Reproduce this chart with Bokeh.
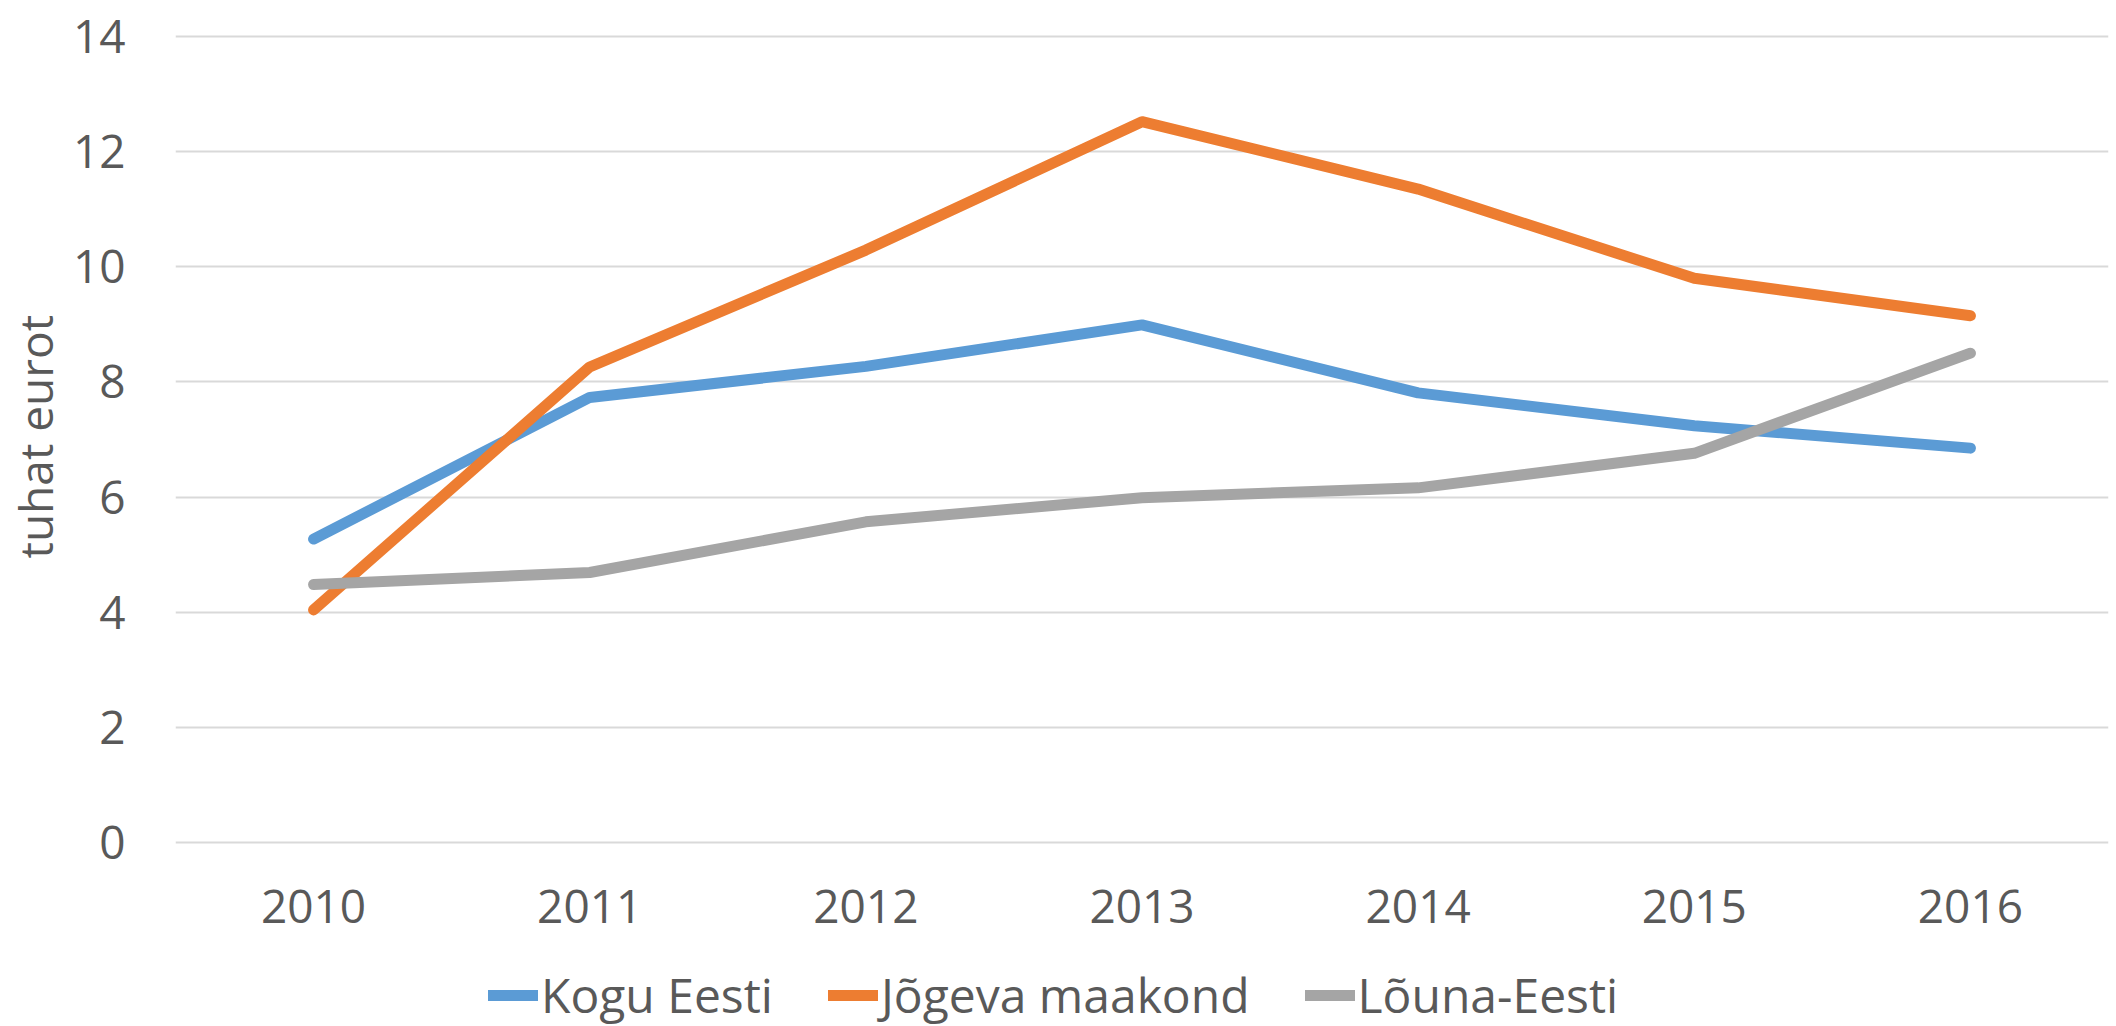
from bokeh.plotting import figure
from bokeh.models import FixedTicker, Legend, LegendItem, Title
from bokeh.embed import file_html
from bokeh.resources import INLINE

years = ["2010", "2011", "2012", "2013", "2014", "2015", "2016"]
kogu_eesti = [5.27, 7.73, 8.27, 8.99, 7.81, 7.24, 6.85]
jogeva_maakond = [4.04, 8.26, 10.29, 12.52, 11.35, 9.80, 9.15]
louna_eesti = [4.48, 4.69, 5.57, 5.99, 6.16, 6.76, 8.50]
y_ticks = [0, 2, 4, 6, 8, 10, 12, 14]

series = [
    ("Kogu Eesti", kogu_eesti, "#5B9BD5"),
    ("Jõgeva maakond", jogeva_maakond, "#ED7D31"),
    ("Lõuna-Eesti", louna_eesti, "#A5A5A5"),
]

FONT = "Open Sans"
TXT = "#595959"

# layout (canvas pixels)
W = 2116
H = 1026
TOP = 20
Y0_PX = 842      # where value 0 sits
Y14_PX = 36      # where value 14 sits
unit = (Y0_PX - Y14_PX) / 14.0
y_start = -(H - Y0_PX) / unit
y_end = 14 + (Y14_PX - TOP) / unit

p = figure(x_range=years, y_range=(y_start, y_end), width=W, height=H,
           output_backend="svg", toolbar_location=None,
           min_border_left=175, min_border_right=8, min_border_top=TOP,
           min_border_bottom=0)
p.outline_line_color = None
p.background_fill_color = "white"

items = []
for name, vals, col in series:
    r = p.line(years, vals, line_color=col, line_width=11,
               line_cap="round", line_join="round")
    items.append(LegendItem(label=name, renderers=[r]))

p.yaxis.ticker = FixedTicker(ticks=y_ticks)
p.xgrid.grid_line_color = None
p.ygrid.grid_line_color = "#D9D9D9"
p.ygrid.grid_line_width = 2

for ax in (p.xaxis[0], p.yaxis[0]):
    ax.axis_line_color = None
    ax.major_tick_line_color = None
    ax.minor_tick_line_color = None
    ax.major_tick_out = 0
    ax.major_tick_in = 0
    ax.minor_tick_out = 0
    ax.minor_tick_in = 0
    ax.major_label_text_font = FONT
    ax.major_label_text_font_size = "46px"
    ax.major_label_text_color = TXT

p.xaxis.fixed_location = 0
p.yaxis.major_label_standoff = 50
p.xaxis.major_label_standoff = 47

ylabel = Title(text="tuhat eurot", align="left", offset=H - 558,
               vertical_align="top",
               text_font=FONT, text_font_size="46px", text_font_style="normal",
               text_color=TXT, standoff=3)
p.add_layout(ylabel, "left")

legend = Legend(items=items, orientation="horizontal", location=(313, -1),
                label_text_font=FONT, label_text_font_size="48px",
                label_text_color=TXT, glyph_width=50, glyph_height=46,
                label_standoff=3, spacing=55, padding=0, margin=0,
                border_line_color=None, background_fill_alpha=0)
p.add_layout(legend, "center")

open("out.html", "w").write(file_html(p, INLINE))
